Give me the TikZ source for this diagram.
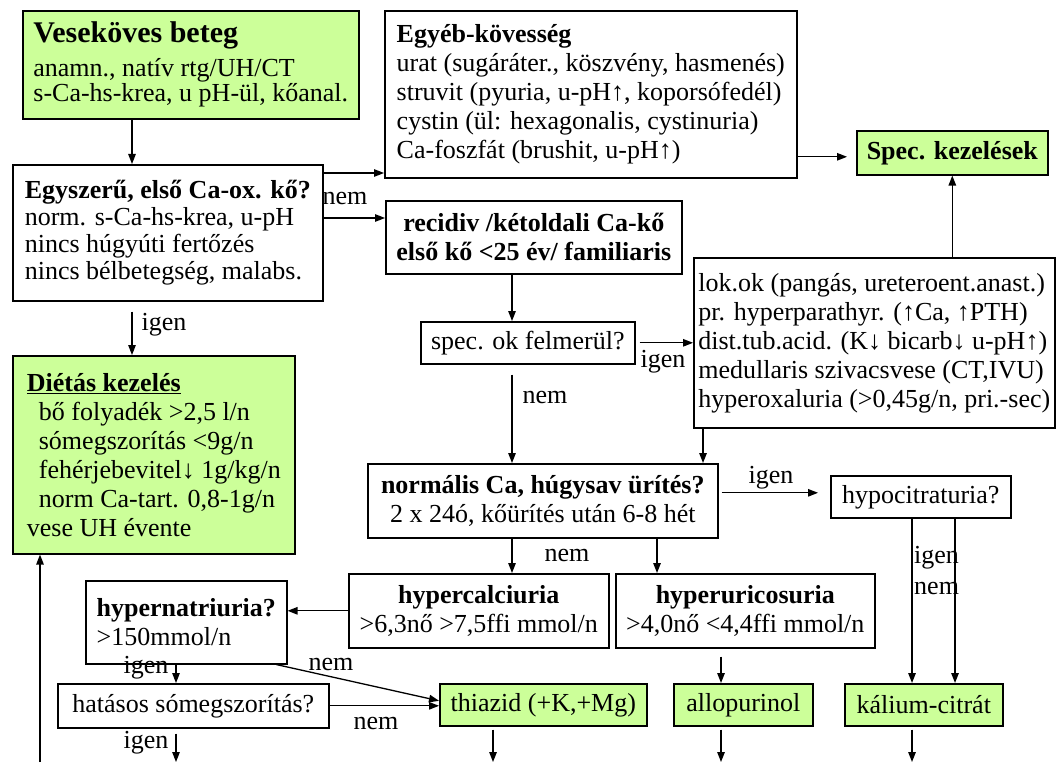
\documentclass[tikz,border=0pt]{standalone}
\usepackage{fontspec}
\setmainfont{Liberation Serif}
\usepackage{tikz}
\usetikzlibrary{calc, arrows.meta}
\definecolor{kezeles}{RGB}{204, 255, 153}

\begin{document}
\begin{tikzpicture}[x=1pt, y=-1pt, >={Triangle[length=10pt, width=7.5pt]},
  box/.style={draw, line width=1.6pt, fill=white, anchor=north west, inner sep=2pt, font=\fontsize{26}{29}\selectfont},
  gbox/.style={box, fill=kezeles},
  lbl/.style={font=\fontsize{26}{29}\selectfont, inner sep=0pt},
  arr/.style={->, line width=1.3pt}]
  \useasboundingbox (0,0) rectangle (1056,762);
  \coordinate (bot) at (0,762);

  % left column
  \node[gbox, align=left, minimum width=336pt, minimum height=108pt] (ves) at (22,10)
    {{\fontsize{30}{30}\selectfont\textbf{Veseköves beteg}}\\[5pt] anamn., natív rtg/UH/CT\\[-4pt] s-Ca-hs-krea, u pH-ül, kőanal.};
  \node[box, align=left, minimum width=310pt, minimum height=136pt] (egy) at (12,164)
    {\textbf{Egyszerű, első Ca-ox. kő?}\\[-2pt] norm. s-Ca-hs-krea, u-pH\\[-2pt] nincs húgyúti fertőzés\\[-2pt] nincs bélbetegség, malabs.};
  \node[gbox, align=left, minimum width=282pt, minimum height=198pt] (diet) at (12,355)
    {\underline{\textbf{Diétás kezelés}}\\ \hspace*{12pt}bő folyadék >2,5 l/n\\ \hspace*{12pt}sómegszorítás <9g/n\\
     \hspace*{12pt}fehérjebevitel↓ 1g/kg/n\\ \hspace*{12pt}norm Ca-tart. 0,8-1g/n\\ vese UH évente};
  \node[box, align=left, minimum width=201pt, minimum height=83pt] (hnat) at (85,580)
    {\textbf{hypernatriuria?}\\ >150mmol/n};
  \node[box, minimum width=271pt, minimum height=44pt] (hat) at (57,683) {hatásos sómegszorítás?};

  % middle and right
  \node[box, align=left, minimum width=412pt, minimum height=167pt] (egyeb) at (384,10)
    {\textbf{Egyéb-kövesség}\\ urat (sugáráter., köszvény, hasmenés)\\ struvit (pyuria, u-pH↑, koporsófedél)\\
     cystin (ül: hexagonalis, cystinuria)\\ Ca-foszfát (brushit, u-pH↑)};
  \node[gbox, minimum width=191pt, minimum height=44pt] (spec) at (856,130) {\textbf{Spec. kezelések}};
  \node[box, align=center, minimum width=296pt, minimum height=73pt] (rec) at (385,200)
    {\textbf{recidiv /kétoldali Ca-kő}\\ \textbf{első kő <25 év/ familiaris}};
  \node[box, minimum width=214pt, minimum height=42pt] (sok) at (420,321) {spec. ok felmerül?};
  \node[box, align=left, minimum width=361pt, minimum height=170pt] (lok) at (693,257)
    {lok.ok (pangás, ureteroent.anast.)\\ pr. hyperparathyr. (↑Ca, ↑PTH)\\ dist.tub.acid. (K↓ bicarb↓ u-pH↑)\\
     medullaris szivacsvese (CT,IVU)\\ hyperoxaluria (>0,45g/n, pri.-sec)};
  \node[box, align=center, minimum width=350pt, minimum height=74pt] (norm) at (367,463)
    {\textbf{normális Ca, húgysav ürítés?}\\ 2 x 24ó, kőürítés után 6-8 hét};
  \node[box, minimum width=180pt, minimum height=42pt] (hypo) at (830,475) {hypocitraturia?};
  \node[box, align=center, minimum width=260pt, minimum height=74pt] (hcalc) at (348,573)
    {\textbf{hypercalciuria}\\ >6,3nő >7,5ffi mmol/n};
  \node[box, align=center, minimum width=259pt, minimum height=74pt] (huric) at (615,573)
    {\textbf{hyperuricosuria}\\ >4,0nő <4,4ffi mmol/n};
  \node[gbox, minimum width=207pt, minimum height=42pt] (thia) at (439,683) {thiazid (+K,+Mg)};
  \node[gbox, minimum width=139pt, minimum height=42pt] (allo) at (673,683) {allopurinol};
  \node[gbox, minimum width=158pt, minimum height=42pt] (kal) at (844,683) {kálium-citrát};

  % connectors
  \coordinate (v1) at ($(ves.south west)+(110,0)$);
  \draw[arr] (v1) -- (v1 |- egy.north);
  \coordinate (e1) at ($(egy.north east)+(0,9)$);
  \draw[arr] (e1) -- (e1 -| egyeb.west);
  \coordinate (e2) at ($(egy.north east)+(0,54)$);
  \draw[arr] (e2) -- (e2 -| rec.west);
  \node[lbl] (n1) at (345,199) {nem};
  \draw[arr, shorten <=10pt] (v1 |- egy.south) -- (v1 |- diet.north);
  \node[lbl] (i1) at (164,325) {igen};
  \coordinate (s1) at ($(spec.west)+(0,4)$);
  \draw[arr, shorten >=9pt] (s1 -| egyeb.east) -- (s1);
  \draw[arr] (spec.south |- lok.north) -- (spec.south);
  \coordinate (r1) at ($(rec.south west)+(127,0)$);
  \draw[arr] (r1) -- (r1 |- sok.north);
  \draw[arr, shorten <=4pt] (sok.east) -- (sok.east -| lok.west);
  \node[lbl] (i2) at (663,362) {igen};
  \draw[arr, shorten <=10pt] (r1 |- sok.south) -- (r1 |- norm.north);
  \node[lbl] (n2) at (545,397) {nem};
  \coordinate (l1) at ($(lok.south west)+(10,0)$);
  \draw[arr] (l1) -- (l1 |- norm.north);
  \coordinate (h1) at ($(hypo.west)+(0,-4)$);
  \draw[arr, shorten <=3pt, shorten >=12pt] (h1 -| norm.east) -- (h1);
  \node[lbl] (i3) at (771,478) {igen};
  \draw[arr] (r1 |- norm.south) -- (r1 |- hcalc.north);
  \coordinate (u1) at ($(huric.north west)+(42,0)$);
  \draw[arr] (u1 |- norm.south) -- (u1);
  \node[lbl] (n3) at (567,555) {nem};
  \draw[arr] (hcalc.west) -- (hcalc.west -| hnat.east);
  \coordinate (t1) at ($(hnat.south west)+(91,0)$);
  \draw[arr] (t1) -- (t1 |- hat.north);
  \node[lbl] (i4) at (146,668) {igen};
  \coordinate (t2) at ($(hnat.south east)+(-11,0)$);
  \draw[arr] (t2) -- ($(thia.west)+(0,-4)$);
  \node[lbl] (n4) at (331,664) {nem};
  \draw[arr] (hat.east) -- (hat.east -| thia.west);
  \node[lbl] (n5) at (376,723) {nem};
  \draw[arr, shorten <=5pt] (t1 |- hat.south) -- (t1 |- bot);
  \node[lbl] (i5) at (146,743) {igen};
  \coordinate (o2) at ($(thia.south west)+(54,0)$);
  \coordinate (o3) at ($(allo.north west)+(48,0)$);
  \draw[arr, shorten <=8pt] (o3 |- huric.south) -- (o3);
  \coordinate (k1) at ($(hypo.south west)+(82,0)$);
  \coordinate (k2) at ($(hypo.south west)+(125,0)$);
  \draw[arr] (k1) -- (k1 |- kal.north);
  \draw[arr] (k2) -- (k2 |- kal.north);
  \node[lbl, anchor=west] (i6) at (914,558) {igen};
  \node[lbl, anchor=west] (n6) at (914,588) {nem};
  \foreach \c/\n in {o2/thia, o3/allo, k1/kal}
    \draw[arr, shorten <=3pt] (\c |- \n.south) -- (\c |- bot);
  \coordinate (b0) at (40,762);
  \draw[arr] (b0) -- (b0 |- diet.south);
\end{tikzpicture}
\end{document}
